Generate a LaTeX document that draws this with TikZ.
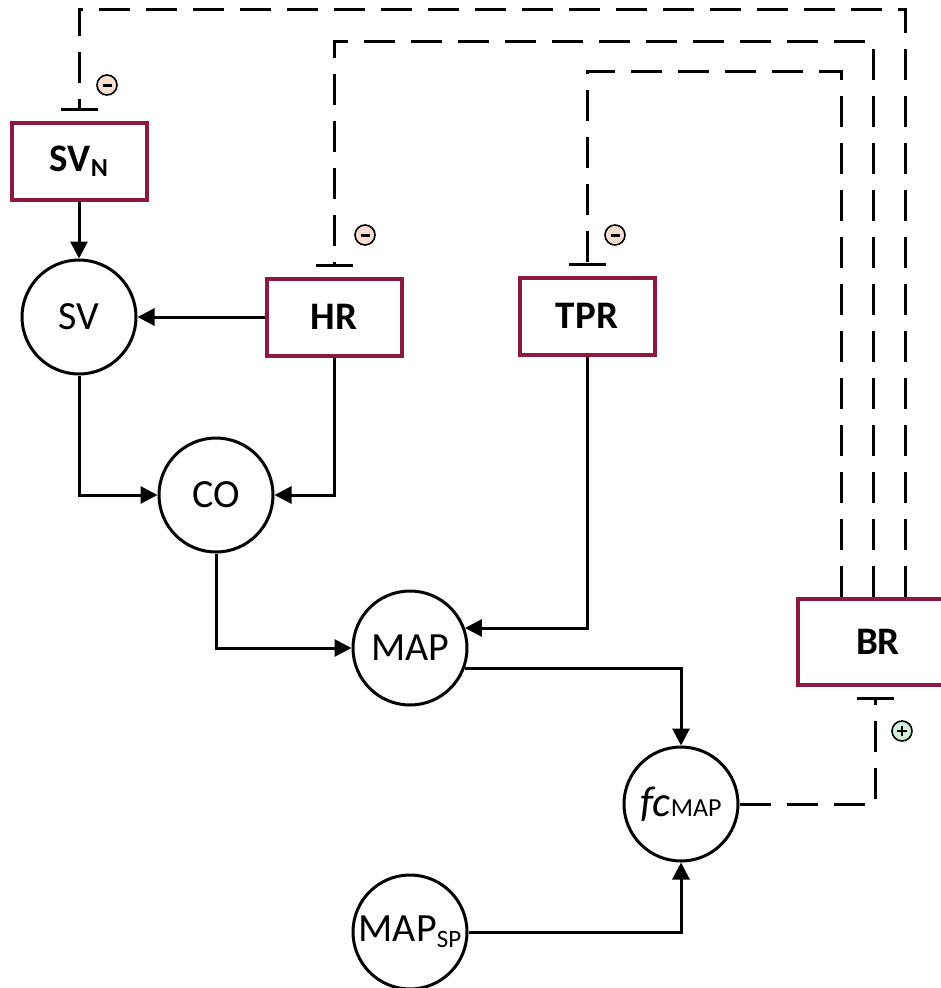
\documentclass[tikz,border=0pt]{standalone}
\usepackage{fontspec}
\setmainfont{Carlito}
\usetikzlibrary{arrows.meta}
\definecolor{boxred}{HTML}{8C1A3E}
\definecolor{minusfill}{HTML}{F5DDD2}
\definecolor{plusfill}{HTML}{D2EEDA}
\begin{document}
\begin{tikzpicture}[x=1pt,y=-1pt,
  varbox/.style={draw=boxred, line width=4pt, minimum width=135pt, minimum height=77pt,
    inner sep=0pt, font=\fontsize{39}{42}\selectfont\bfseries},
  varcirc/.style={draw, circle, line width=3pt, minimum size=114pt, inner sep=0pt,
    font=\fontsize{40}{44}\selectfont},
  flow/.style={line width=3pt, -{Triangle[length=17pt,width=17pt]}},
  inhib/.style={line width=3pt, dash pattern=on 31pt off 16pt,
    -{Bar[width=37pt]}, shorten >=10pt},
  signc/.style={circle, draw, line width=1.6pt, minimum size=20pt, inner sep=0pt},
  minus/.style={signc, fill=minusfill, path picture={
    \draw[line width=3pt] ([xshift=-4.5pt]path picture bounding box.center) --
      ([xshift=4.5pt]path picture bounding box.center);}},
  plus/.style={signc, fill=plusfill, path picture={
    \draw[line width=2.2pt] ([xshift=-5pt]path picture bounding box.center) --
      ([xshift=5pt]path picture bounding box.center);
    \draw[line width=2.2pt] ([yshift=-5pt]path picture bounding box.center) --
      ([yshift=5pt]path picture bounding box.center);}}
]
\useasboundingbox (0,0) rectangle (940,988);

% boxes
\node[varbox] (SVN) at (79,161) {SV\raisebox{-5pt}{\fontsize{26}{28}\selectfont\bfseries N}};
\node[varbox] (HR) at (334,317) {HR};
\node[varbox] (TPR) at (587,316) {TPR};
\node[varbox, minimum width=160pt, minimum height=86pt] (BR) at (878,642) {BR};

% circles
\node[varcirc] (SV) at (79,317) {SV};
\node[varcirc] (CO) at (216,495) {CO};
\node[varcirc] (MAP) at (410,648) {MAP};
\node[varcirc] (FC) at (681,804) {\fontsize{43}{46}\selectfont\textit{fc}{\fontsize{26}{28}\selectfont MAP}};
\node[varcirc] (MAPSP) at (410,932) {MAP\raisebox{-6pt}{\fontsize{25}{28}\selectfont SP}};

% solid flows
\draw[flow] (SVN) -- (SV);
\draw[flow] (HR) -- (SV);
\draw[flow] (SV.south) |- (CO.west);
\draw[flow] (HR.south) |- (CO.east);
\draw[flow] (CO.south) |- (MAP.west);
\draw[flow] (TPR.south) |- (MAP.20);
\draw[flow] (MAP.-20) -| (FC.north);
\draw[flow] (MAPSP.east) -| (FC.south);

% feedback coordinates
\coordinate (o1) at (905,9);
\coordinate (m1) at (873,41);
\coordinate (i1) at (841,71);
\coordinate (b1) at (875,0);

% dashed inhibitions
\draw[inhib] (BR.north -| o1) -- (o1) -- (SVN.north |- o1) -- (SVN.north);
\draw[inhib] (BR.north -| m1) -- (m1) -- (HR.north |- m1) -- (HR.north);
\draw[inhib] (BR.north -| i1) -- (i1) -- (TPR.north |- i1) -- (TPR.north);
\draw[inhib] (FC.east) -| (BR.south -| b1);

% signs
\node[minus] (s1) at (107,85) {};
\node[minus] (s2) at (365,235) {};
\node[minus] (s3) at (615,235) {};
\node[plus] (s4) at (902,731) {};
\end{tikzpicture}
\end{document}
